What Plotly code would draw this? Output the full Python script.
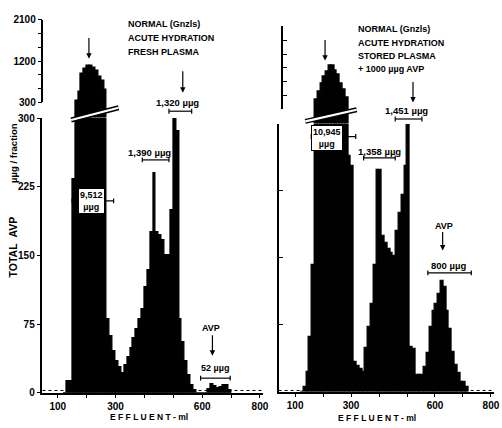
import plotly.graph_objects as go

W, H = 502, 428
FONT = "Liberation Sans"

# ---------------- data (fraction mid-volume, ml ; total AVP per fraction, µµg) -------------
left_effluent = [125, 135, 145, 155, 165, 175, 185, 195, 205, 215, 225, 235, 245, 255, 265,
                 275, 285, 295, 305, 315, 325, 335, 345, 355, 365, 375, 385, 395, 405, 415,
                 425, 435, 445, 455, 465, 475, 485, 495, 505, 515, 525, 535, 545, 555, 565,
                 575, 585, 595, 605, 615, 625, 635, 645, 655, 665, 675, 685, 695]
left_avp = [0, 13, 13, 233, 350, 533, 935, 1041, 1105, 1105, 1063, 1000, 870, 766, 575,
            81, 62, 46, 35, 28, 22, 30, 39, 49, 60, 70, 80, 91, 115, 134,
            176, 240, 176, 172, 167, 150, 150, 200, 300, 286, 80, 55, 35, 19, 8,
            3, 0, 0, 0, 0, 4, 10, 7, 5, 6, 8, 8, 3]

right_effluent = [125, 135, 145, 155, 165, 175, 185, 195, 205, 215, 225, 235, 245, 255, 265,
                  275, 285, 295, 305, 315, 325, 335, 345, 355, 365, 375, 385, 395, 405, 415,
                  425, 435, 445, 455, 465, 475, 485, 495, 505, 515, 525, 535, 545, 555, 565,
                  575, 585, 595, 605, 615, 625, 635, 645, 655, 665, 675, 685, 695, 705, 715]
right_avp = [0, 6, 22, 62, 142, 518, 696, 872, 1013, 1120, 1260, 1260, 1153, 1047, 872,
             730, 554, 264, 253, 33, 29, 26, 22, 49, 73, 98, 142, 249, 249, 175,
             167, 160, 156, 152, 180, 200, 220, 253, 299, 50, 48, 19, 19, 19, 28,
             44, 73, 91, 98, 110, 124, 118, 91, 70, 45, 30, 21, 11, 11, 6]

lower_ticks = [0, 75, 150, 225, 300]
lower_ticktext = ["0", "75", "150", "225", "300"]
upper_ticks = [300, 600, 900, 1200, 1500, 1800, 2100]
upper_ticktext = ["300", "", "", "1200", "", "", "2100"]
x_ticks = [100, 200, 300, 400, 500, 600, 700, 800]
x_ticktext = ["100", "", "300", "", "", "600", "", "800"]

BREAK = 300
TOP = 2100
FRACTION_ML = 10


def px(x):
    return x / W


def py(y):
    return 1 - y / H


# panel geometry in pixels
LEFT = dict(x0=43, x1=266, xr=[47, 810], low=(398, 116), up=(100, 15), upx=43)
RIGHT = dict(x0=282, x1=500, xr=[41, 811], low=(397, 122), up=(107, 22), upx=285)


def upper_floor(g):
    scale = (TOP - BREAK) / (g["up"][0] - g["up"][1])
    return BREAK - (g["low"][1] - g["up"][0]) * scale


lo_L = upper_floor(LEFT)
lo_R = upper_floor(RIGHT)

fig = go.Figure()
bar_style = dict(marker=dict(color="black", line=dict(color="black", width=1.1)),
                 width=FRACTION_ML, hoverinfo="skip", showlegend=False)

fig.add_bar(x=left_effluent, y=left_avp, xaxis="x", yaxis="y", **bar_style)
fig.add_bar(x=left_effluent, y=[v - lo_L if v > BREAK else None for v in left_avp],
            base=lo_L, xaxis="x", yaxis="y2", **bar_style)
fig.add_bar(x=right_effluent, y=right_avp, xaxis="x2", yaxis="y3", **bar_style)
fig.add_bar(x=right_effluent, y=[v - lo_R if v > BREAK else None for v in right_avp],
            base=lo_R, xaxis="x2", yaxis="y4", **bar_style)
# carriers for the visible upper scales
fig.add_scatter(x=[None], y=[None], xaxis="x", yaxis="y5", showlegend=False, hoverinfo="skip")
fig.add_scatter(x=[None], y=[None], xaxis="x2", yaxis="y6", showlegend=False, hoverinfo="skip")

tickfont = dict(family=FONT, size=10, color="black", weight="bold")
common = dict(showgrid=False, zeroline=False, showline=True, linecolor="black",
              linewidth=1.5, tickcolor="black", tickwidth=1.3, tickfont=tickfont)

fig.update_layout(
    width=W, height=H, autosize=False,
    margin=dict(l=0, r=0, t=0, b=0),
    paper_bgcolor="white", plot_bgcolor="rgba(0,0,0,0)",
    barmode="overlay", bargap=0,
    font=dict(family=FONT, size=9, color="black", weight="bold"),
    xaxis=dict(domain=[px(LEFT["x0"]), px(LEFT["x1"])], range=LEFT["xr"], anchor="y",
               tickvals=x_ticks, ticktext=x_ticktext, ticks="outside", ticklen=3, **common),
    yaxis=dict(domain=[py(LEFT["low"][0]), py(LEFT["low"][1])], range=[0, 300], anchor="x",
               tickvals=lower_ticks, ticktext=lower_ticktext, ticks="outside", ticklen=4, **common),
    yaxis2=dict(domain=[py(LEFT["low"][1]), py(LEFT["up"][1])], range=[lo_L, TOP], anchor="x",
                visible=False),
    yaxis5=dict(domain=[py(LEFT["up"][0]), py(LEFT["up"][1])], range=[BREAK, TOP], anchor="free",
                position=px(LEFT["upx"]), tickvals=upper_ticks, ticktext=upper_ticktext,
                ticks="outside", ticklen=4, **common),
    xaxis2=dict(domain=[px(RIGHT["x0"]), px(RIGHT["x1"])], range=RIGHT["xr"], anchor="y3",
                tickvals=x_ticks, ticktext=x_ticktext, ticks="outside", ticklen=3, **common),
    yaxis3=dict(domain=[py(RIGHT["low"][0]), py(RIGHT["low"][1])], range=[0, 300], anchor="x2",
                tickvals=lower_ticks, ticks="inside", ticklen=5, showticklabels=False, **common),
    yaxis4=dict(domain=[py(RIGHT["low"][1]), py(RIGHT["up"][1])], range=[lo_R, TOP], anchor="x2",
                visible=False),
    yaxis6=dict(domain=[py(RIGHT["up"][0]), py(RIGHT["up"][1])], range=[BREAK, TOP], anchor="free",
                position=px(RIGHT["upx"]), tickvals=upper_ticks, ticks="inside", ticklen=5,
                showticklabels=False, **common),
)

shapes = []
# dotted base lines
shapes.append(dict(type="line", xref="x domain", yref="y", x0=0, x1=1, y0=2.5, y1=2.5,
                   line=dict(color="black", width=1, dash="dot"), layer="below"))
shapes.append(dict(type="line", xref="x2 domain", yref="y3", x0=0, x1=1, y0=1.5, y1=1.5,
                   line=dict(color="black", width=1, dash="dot"), layer="below"))


def seg(x0, y0, x1, y1, w=1.2, color="black", layer="above"):
    return dict(type="line", xref="paper", yref="paper", x0=px(x0), y0=py(y0), x1=px(x1), y1=py(y1),
                line=dict(color=color, width=w), layer=layer)


# axis-break marks
for (a, b, c, d) in [(72, 118, 120, 105.5), (309, 119.5, 361, 107.5)]:
    shapes.append(seg(a, b, c, d, w=5))
    shapes.append(seg(a, b, c, d, w=2.2, color="white"))


def bracket(x0, x1, y):
    return [seg(x0, y, x1, y), seg(x0, y - 2.5, x0, y + 2.5), seg(x1, y - 2.5, x1, y + 2.5)]


for (x0, x1, y) in [(171, 194, 109), (144, 171, 159), (73, 115, 201), (203, 233, 383),
                    (315, 360, 135), (368, 400, 157), (400, 427, 117), (433, 477, 275)]:
    shapes += bracket(x0, x1, y)

fig.update_layout(shapes=shapes)

ann = []


def text(t, x, y, size=9, xanchor="center", box=False, angle=0):
    d = dict(text=t, x=px(x), y=py(y), xref="paper", yref="paper", showarrow=False,
             xanchor=xanchor, yanchor="middle", textangle=angle,
             font=dict(family=FONT, size=size, color="black", weight="bold"))
    if box:
        d.update(bgcolor="white", bordercolor="black", borderwidth=1, borderpad=1)
    return d


def arrow(x, ytip, ytail):
    return dict(text="", x=px(x), y=py(ytip), xref="paper", yref="paper", showarrow=True,
                ax=0, ay=-(ytip - ytail), arrowhead=2, arrowsize=0.9, arrowwidth=1.2,
                arrowcolor="black")


for i, t in enumerate(["NORMAL (Gnzls)", "ACUTE HYDRATION", "FRESH PLASMA"]):
    ann.append(text(t, 128, 20 + 14 * i, xanchor="left"))
for i, t in enumerate(["NORMAL (Gnzls)", "ACUTE HYDRATION", "STORED PLASMA", "+ 1000 µµg AVP"]):
    ann.append(text(t, 360, 25 + 13.7 * i, xanchor="left"))

ann += [
    text("1,320 µµg", 180, 100, size=9.5),
    text("1,390 µµg", 151, 151, size=9.5),
    text("9,512<br>µµg", 92.5, 201, box=True),
    text("AVP", 214, 332),
    text("52 µµg", 218, 373),
    text("10,945<br>µµg", 331, 136, box=True),
    text("1,358 µµg", 384, 150, size=9.5),
    text("1,451 µµg", 411, 108, size=9.5),
    text("AVP", 449, 227),
    text("800 µµg", 454, 267, size=9.5),
    text("TOTAL\u00a0\u00a0AVP", 13, 248, size=10.5, angle=-90),
    text("µµg /\u00a0fraction", 13, 152, size=9.5, angle=-90),
    text("E F F L U E N T - ml", 151, 423, size=8.5),
    text("E F F L U E N T - ml", 382, 424, size=8.5),
    arrow(90, 55, 33), arrow(329, 57, 35), arrow(185, 90, 67), arrow(418, 100, 78),
    arrow(215, 360, 338), arrow(448, 252, 232),
]
fig.update_layout(annotations=ann)

fig.write_html("out.html")
